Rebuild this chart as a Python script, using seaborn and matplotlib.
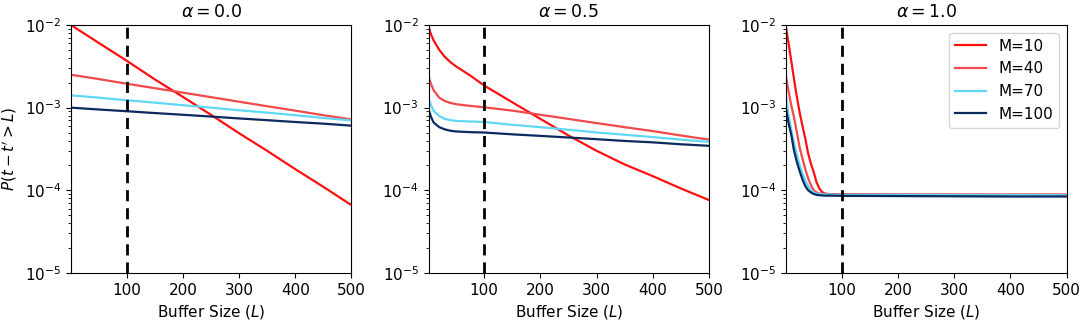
"""
Tail probability P(t - t' > L) against buffer size L for three values of alpha.
"""
import numpy as np
import pandas as pd
from matplotlib import pyplot as plt
import seaborn as sns

# Data
m_labels = ["M=10", "M=40", "M=70", "M=100"]
colors = ["#ff1010", "#f04a4a", "#5fd8f5", "#0b2a5e"]

L_a00 = [1, 50, 100, 150, 200, 250, 300, 350, 400, 450, 500]
p_a00_m10 = [1.0e-2, 6.1e-3, 3.7e-3, 2.2e-3, 1.35e-3, 8.2e-4, 4.9e-4, 3.0e-4, 1.8e-4, 1.1e-4, 6.6e-5]
p_a00_m40 = [2.5e-3, 2.22e-3, 1.95e-3, 1.72e-3, 1.52e-3, 1.34e-3, 1.18e-3, 1.04e-3, 9.2e-4, 8.1e-4, 7.2e-4]
p_a00_m70 = [1.41e-3, 1.32e-3, 1.23e-3, 1.15e-3, 1.07e-3, 1.0e-3, 9.3e-4, 8.7e-4, 8.1e-4, 7.5e-4, 7.0e-4]
p_a00_m100 = [1.0e-3, 9.5e-4, 9.05e-4, 8.6e-4, 8.2e-4, 7.8e-4, 7.4e-4, 7.05e-4, 6.7e-4, 6.4e-4, 6.05e-4]

L_a05 = [1, 5, 10, 20, 30, 40, 50, 75, 100, 150, 200, 250, 300, 350, 400, 450, 500]
p_a05_m10 = [9.5e-3, 7.8e-3, 6.5e-3, 5.0e-3, 4.1e-3, 3.55e-3, 3.15e-3, 2.45e-3, 1.85e-3,
             1.16e-3, 7.3e-4, 4.6e-4, 3.0e-4, 2.05e-4, 1.48e-4, 1.05e-4, 7.6e-5]
p_a05_m40 = [2.37e-3, 1.95e-3, 1.62e-3, 1.32e-3, 1.2e-3, 1.14e-3, 1.1e-3, 1.05e-3, 1.01e-3,
             9.2e-4, 8.2e-4, 7.3e-4, 6.5e-4, 5.8e-4, 5.2e-4, 4.6e-4, 4.1e-4]
p_a05_m70 = [1.33e-3, 1.08e-3, 9.1e-4, 7.9e-4, 7.3e-4, 7.05e-4, 6.9e-4, 6.8e-4, 6.7e-4,
             6.2e-4, 5.8e-4, 5.4e-4, 5.0e-4, 4.7e-4, 4.4e-4, 4.1e-4, 3.85e-4]
p_a05_m100 = [9.6e-4, 7.8e-4, 6.6e-4, 5.8e-4, 5.45e-4, 5.25e-4, 5.15e-4, 5.05e-4, 5.0e-4,
              4.75e-4, 4.55e-4, 4.35e-4, 4.15e-4, 3.95e-4, 3.8e-4, 3.6e-4, 3.45e-4]

L_a10 = [1, 5, 10, 15, 20, 25, 30, 35, 40, 45, 50, 55, 60, 65, 70, 80, 100, 200, 300, 400, 500]
p_a10_m10 = [9.1e-3, 6.1e-3, 3.7e-3, 2.2e-3, 1.35e-3, 8.7e-4, 6.0e-4, 4.2e-4, 2.8e-4, 2.1e-4,
             1.65e-4, 1.25e-4, 1.05e-4, 9.5e-5, 9.1e-5, 8.95e-5, 8.9e-5, 8.8e-5, 8.75e-5, 8.7e-5, 8.65e-5]
p_a10_m40 = [2.3e-3, 1.6e-3, 1.07e-3, 7.6e-4, 5.0e-4, 3.3e-4, 2.4e-4, 1.8e-4, 1.4e-4, 1.15e-4,
             1.0e-4, 9.4e-5, 9.15e-5, 9.05e-5, 9.0e-5, 8.95e-5, 8.95e-5, 8.9e-5, 8.9e-5, 8.9e-5, 8.9e-5]
p_a10_m70 = [1.35e-3, 8.1e-4, 5.4e-4, 3.7e-4, 2.7e-4, 2.0e-4, 1.6e-4, 1.3e-4, 1.12e-4, 1.0e-4,
             9.4e-5, 9.1e-5, 9.0e-5, 8.95e-5, 8.9e-5, 8.85e-5, 8.8e-5, 8.8e-5, 8.75e-5, 8.75e-5, 8.7e-5]
p_a10_m100 = [9.4e-4, 6.6e-4, 4.7e-4, 3.0e-4, 2.2e-4, 1.7e-4, 1.35e-4, 1.12e-4, 1.0e-4, 9.4e-5,
              9.0e-5, 8.8e-5, 8.7e-5, 8.65e-5, 8.6e-5, 8.6e-5, 8.55e-5, 8.5e-5, 8.45e-5, 8.4e-5, 8.4e-5]

alphas = ["0.0", "0.5", "1.0"]
panels = [
    (L_a00, [p_a00_m10, p_a00_m40, p_a00_m70, p_a00_m100]),
    (L_a05, [p_a05_m10, p_a05_m40, p_a05_m70, p_a05_m100]),
    (L_a10, [p_a10_m10, p_a10_m40, p_a10_m70, p_a10_m100]),
]


def to_long(L, series):
    frames = []
    for label, p in zip(m_labels, series):
        frames.append(pd.DataFrame({"L": L, "P": p, "M": label}))
    return pd.concat(frames, ignore_index=True)


fig, axes = plt.subplots(
    nrows=1,
    ncols=3,
    figsize=(10.84, 3.21),
    dpi=100,
    gridspec_kw=dict(left=0.0655, right=0.984, bottom=0.150, top=0.922, wspace=0.275),
)

palette = dict(zip(m_labels, colors))

for i, (ax, alpha, (L, series)) in enumerate(zip(axes, alphas, panels)):
    df = to_long(L, series)
    sns.lineplot(
        data=df,
        x="L",
        y="P",
        hue="M",
        hue_order=m_labels,
        palette=palette,
        linewidth=1.6,
        ax=ax,
        legend=(i == 2),
    )
    ax.axvline(100, color="black", linestyle="--", linewidth=2, dashes=(4, 2.5))
    ax.set_yscale("log")
    ax.set_ylim(1e-5, 1e-2)
    ax.set_xlim(1, 500)
    ax.set_xticks([100, 200, 300, 400, 500])
    ax.tick_params(labelsize=11)
    ax.set_title(r"$\alpha = %s$" % alpha, fontsize=12.5)
    ax.set_xlabel(r"Buffer Size ($L$)", fontsize=11)
    ax.set_ylabel("")

axes[0].set_ylabel(r"$P(t - t' > L)$", fontsize=11)
axes[2].legend(loc="upper right", fontsize=11, title=None)

plt.savefig("out.png", dpi=100)
